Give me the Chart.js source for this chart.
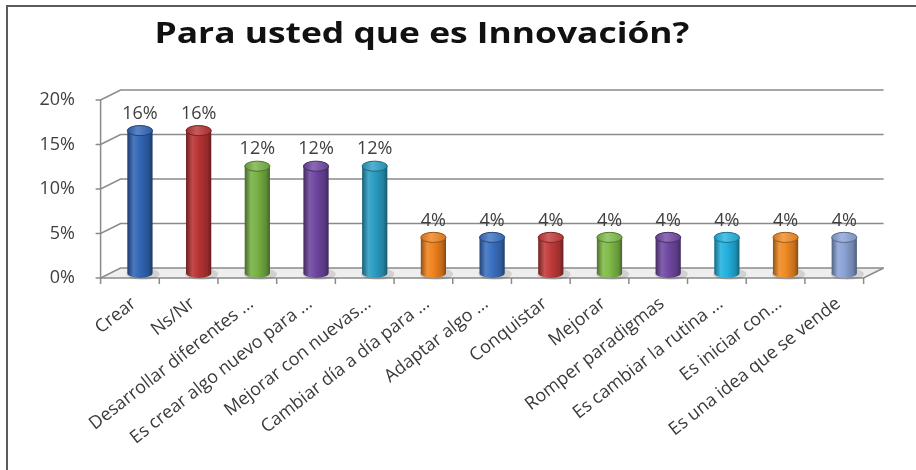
<!DOCTYPE html>
<html>
<head>
<meta charset="utf-8">
<script src="https://cdn.jsdelivr.net/npm/chart.js@4.4.0/dist/chart.umd.min.js"></script>
<style>
html,body{margin:0;padding:0;background:#fff;overflow:hidden;}
canvas{display:block;}
</style>
</head>
<body>
<canvas id="chart" width="916" height="470"></canvas>
<script>
const chartTitle='Para usted que es Innovación?';
const categories=['Crear','Ns/Nr','Desarrollar diferentes ...','Es crear algo nuevo para ...','Mejorar con nuevas...','Cambiar día a día para ...','Adaptar algo ...','Conquistar','Mejorar','Romper paradigmas','Es cambiar la rutina ...','Es iniciar con...','Es una idea que se vende'];
const percentValues=[16,16,12,12,12,4,4,4,4,4,4,4,4];
const barColors=['#3166b6','#b83333','#77b043','#6d46a0','#2a9dc2','#f0821e','#3a71c2','#c23a3a','#80bb48','#7149a2','#22b2de','#f08a24','#8aa3d5'];
const yMax=20,yStep=5;

const FONT='"Open Sans", "DejaVu Sans", sans-serif';
const DX=10,DY=5; // half depth of the 3d box

function shade(hex,amt){
    const n=parseInt(hex.slice(1),16);
    let r=n>>16,g=(n>>8)&255,b=n&255;
    const t=amt<0?0:255,p=Math.abs(amt);
    r=Math.round(r+(t-r)*p);g=Math.round(g+(t-g)*p);b=Math.round(b+(t-b)*p);
    return `rgb(${r},${g},${b})`;
}

const box3d={
    id:'box3d',
    beforeDraw(chart){
        // outer frame, only top and left edges are visible in the picture
        const {ctx,width,height}=chart;
        ctx.save();
        ctx.strokeStyle='#5b5b5b';ctx.lineWidth=2;
        ctx.beginPath();ctx.moveTo(7,height);ctx.lineTo(7,6);ctx.lineTo(width,6);ctx.stroke();
        ctx.restore();
    },
    beforeDatasetsDraw(chart){
        const {ctx,chartArea:a,scales:{x,y}}=chart;
        const L=a.left,R=a.right,B=a.bottom;
        ctx.save();
        // floor
        ctx.fillStyle='#eeeeee';
        ctx.beginPath();
        ctx.moveTo(L-DX,B+DY);ctx.lineTo(R-DX,B+DY);ctx.lineTo(R+DX,B-DY);ctx.lineTo(L+DX,B-DY);ctx.closePath();
        ctx.fill();
        ctx.strokeStyle='#8a8a8a';ctx.lineWidth=1.5;
        y.ticks.forEach(t=>{
            const py=y.getPixelForValue(t.value);
            ctx.beginPath();
            ctx.moveTo(L-DX-5,py+DY);ctx.lineTo(L-DX,py+DY);ctx.lineTo(L+DX,py-DY);ctx.lineTo(R+DX,py-DY);
            ctx.stroke();
        });
        ctx.beginPath();
        ctx.moveTo(L-DX,y.getPixelForValue(yMax)+DY);ctx.lineTo(L-DX,B+DY);ctx.lineTo(R-DX,B+DY);ctx.lineTo(R+DX,B-DY);
        ctx.stroke();
        const step=x.getPixelForValue(1)-x.getPixelForValue(0);
        for(let i=0;i<=categories.length;i++){
            const px=x.getPixelForValue(0)-step/2+i*step-DX;
            ctx.beginPath();ctx.moveTo(px,B+DY);ctx.lineTo(px,B+DY+6);ctx.stroke();
        }
        ctx.restore();
    },
    beforeDatasetDraw(){return false;},
    afterDatasetsDraw(chart){
        const {ctx}=chart;
        const meta=chart.getDatasetMeta(0);
        ctx.save();
        meta.data.forEach((el,i)=>{
            const c=barColors[i];
            const w=el.width,hw=w/2,ry=w*0.2,top=el.y,base=el.base,cx=el.x;
            // soft floor shadow
            ctx.fillStyle='rgba(0,0,0,0.12)';
            ctx.beginPath();ctx.ellipse(cx+3,base+1,hw+4,ry+1,0,0,Math.PI*2);ctx.fill();
            const g=ctx.createLinearGradient(cx-hw,0,cx+hw,0);
            g.addColorStop(0,shade(c,-0.4));
            g.addColorStop(0.25,shade(c,0.12));
            g.addColorStop(0.5,c);
            g.addColorStop(0.85,shade(c,-0.2));
            g.addColorStop(1,shade(c,-0.45));
            ctx.fillStyle=g;
            ctx.beginPath();
            ctx.moveTo(cx-hw,top);ctx.lineTo(cx-hw,base);
            ctx.ellipse(cx,base,hw,ry,0,Math.PI,0,true);
            ctx.lineTo(cx+hw,top);ctx.closePath();
            ctx.fill();
            const g2=ctx.createLinearGradient(cx-hw,0,cx+hw,0);
            g2.addColorStop(0,shade(c,-0.15));
            g2.addColorStop(0.4,shade(c,0.2));
            g2.addColorStop(1,shade(c,-0.1));
            ctx.fillStyle=g2;
            ctx.beginPath();ctx.ellipse(cx,top,hw,ry,0,0,Math.PI*2);ctx.fill();
            ctx.strokeStyle=shade(c,-0.35);ctx.lineWidth=1;ctx.stroke();
            // value label
            ctx.fillStyle='#404040';
            ctx.font='18px '+FONT;
            ctx.textAlign='center';ctx.textBaseline='middle';
            ctx.fillText(percentValues[i]+'%',cx,top-17);
        });
        ctx.restore();
    },
    afterDraw(chart){
        const {ctx}=chart;
        ctx.save();
        ctx.font='bold 29px '+FONT;
        ctx.fillStyle='#111111';
        ctx.textAlign='center';ctx.textBaseline='alphabetic';
        const tw=ctx.measureText(chartTitle).width;
        ctx.translate(422,43);
        ctx.scale(535/tw,1);
        ctx.fillText(chartTitle,0,0);
        ctx.restore();
    }
};

new Chart(document.getElementById('chart'),{
    type:'bar',
    data:{labels:categories,datasets:[{data:percentValues,backgroundColor:barColors,barPercentage:0.43,categoryPercentage:1}]},
    options:{
        responsive:false,animation:false,
        layout:{padding:{top:95,left:20,right:42.4,bottom:0}},
        plugins:{legend:{display:false},tooltip:{enabled:false},title:{display:false}},
        scales:{
            x:{
                grid:{display:false,drawTicks:false},border:{display:false},
                ticks:{autoSkip:false,minRotation:38,maxRotation:38,padding:20,labelOffset:-6,color:'#3a3a3a',font:{family:FONT,size:18}},
                afterFit(s){s.height=197;}
            },
            y:{
                min:0,max:yMax,
                grid:{display:false,drawTicks:false},border:{display:false},
                ticks:{stepSize:yStep,padding:35.6,labelOffset:5,color:'#404040',font:{family:FONT,size:18},callback:v=>v+'%'},
                afterFit(s){s.width=90.6;}
            }
        }
    },
    plugins:[box3d]
});
</script>
</body>
</html>
